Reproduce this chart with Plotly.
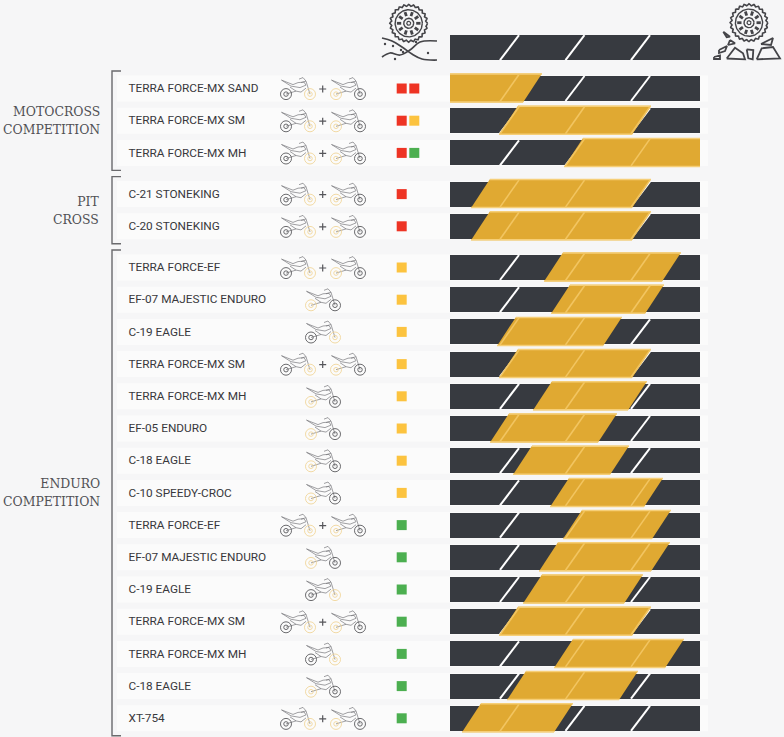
import numpy as np
import plotly.graph_objects as go

# data
groups = ["MOTOCROSS<br>COMPETITION", "PIT<br>CROSS", "ENDURO<br>COMPETITION"]
group_sizes = [3, 2, 15]
names = ["TERRA FORCE-MX SAND", "TERRA FORCE-MX SM", "TERRA FORCE-MX MH",
         "C-21 STONEKING", "C-20 STONEKING",
         "TERRA FORCE-EF", "EF-07 MAJESTIC ENDURO", "C-19 EAGLE", "TERRA FORCE-MX SM",
         "TERRA FORCE-MX MH", "EF-05 ENDURO", "C-18 EAGLE", "C-10 SPEEDY-CROC",
         "TERRA FORCE-EF", "EF-07 MAJESTIC ENDURO", "C-19 EAGLE", "TERRA FORCE-MX SM",
         "TERRA FORCE-MX MH", "C-18 EAGLE", "XT-754"]
low = [0, 19.6, 45.6, 8.4, 8.4, 37.6, 40.4, 18.8, 19.6, 33.2,
       16, 25.2, 40, 45.2, 35.6, 29.2, 19.6, 41.6, 22.8, 4.8]
high = [36.8, 80.4, 100, 80.4, 80.4, 92.4, 85.6, 68.8, 80.4, 78.8,
        66.8, 71.6, 85.2, 88.4, 88, 77.2, 80.4, 93.6, 75.2, 49.2]
# which wheel is highlighted: both = two bikes, else left/right on one bike
wheels = ["both", "both", "both", "both", "both",
          "both", "left", "right", "both", "left", "left", "left", "left",
          "both", "left", "right", "both", "right", "left", "both"]
terrain_a = ["red"] * 5 + ["yellow"] * 8 + ["green"] * 7
terrain_b = ["red", "yellow", "green"] + [None] * 17
slashes = [20, 46.2, 72.4]

BG = "#f6f6f7"
TRACK = "#373a40"
GOLD = "#e0a932"
GOLD_EDGE = "#f6cf78"
GOLD_SLASH = "#f2c561"
INK = "#444448"
WHEEL = "#f1d69b"
SQUARES = {"red": "#ee3424", "yellow": "#fcc33f", "green": "#4caf50"}
SKEW = 7.6  # slant of the bars in axis units

# row centres in pixels
row_y, bracket_y = [], []
y = 88.5
for size in group_sizes:
    top = y - 17.5
    for i in range(size):
        row_y.append(y)
        y += 32.2
    bracket_y.append((top, y - 32.2 + 17.5))
    y += 9
header_y = 47.7

fig = go.Figure()

# stripes behind the rows
shapes = [dict(type="rect", xref="x", yref="y", x0=117, x1=708, y0=c - 13, y1=c + 13,
               fillcolor="#fbfbfb", line_width=0, layer="below") for c in row_y]

# brackets
for top, bottom in bracket_y:
    shapes.append(dict(type="path", xref="x", yref="y", layer="above",
                       path=f"M 121 {top} L 112 {top} L 112 {bottom} L 121 {bottom}",
                       line=dict(color="#6a6a6d", width=1.4)))
fig.update_layout(shapes=shapes)

# names
fig.add_trace(go.Scatter(x=[128.5] * len(names), y=[c + 0.8 for c in row_y], mode="text", text=names,
                         textposition="middle right",
                         textfont=dict(family="Roboto", size=11.8, color="#38383c")))

# terrain squares
fig.add_trace(go.Scatter(x=[401.7] * len(row_y), y=row_y, mode="markers",
                         marker=dict(symbol="square", size=10, line_width=0,
                                     color=[SQUARES[t] for t in terrain_a])))
second = [(c, SQUARES[t]) for c, t in zip(row_y, terrain_b) if t]
fig.add_trace(go.Scatter(x=[414.3] * len(second), y=[s[0] for s in second], mode="markers",
                         marker=dict(symbol="square", size=10, line_width=0,
                                     color=[s[1] for s in second])))

# bike icons, local coordinates from the rear wheel centre
BIKE = [[(-4.5, -14), (7, -9.5), (12, -11.5), (18, -12), (20, -9), (14, -6.5), (5, -8), (-4.5, -14)],
        [(0, 0), (10, -3), (15, -2), (20, -6)],
        [(4, -7), (10, -3)],
        [(13, -15), (17, -16.5), (20, -13), (24, 0)],
        [(15, -11.5), (20, -13)]]
bx, by, gray_w, gold_w = [], [], [], []


def add_bike(x0, c, lit):
    for part in BIKE:
        bx.extend([x0 + p[0] for p in part] + [None])
        by.extend([c + 5.6 + p[1] for p in part] + [None])
    for wx, side in ((x0, "left"), (x0 + 24, "right")):
        (gold_w if side == lit else gray_w).append((wx, c + 5.6))


for c, w in zip(row_y, wheels):
    if w == "both":
        add_bike(286, c, "right")
        add_bike(336, c, "left")
    else:
        add_bike(311, c, w)

fig.add_trace(go.Scatter(x=bx, y=by, mode="lines", line=dict(color="#77777b", width=0.7)))
for pts, color in ((gray_w, "#5a5a5e"), (gold_w, WHEEL)):
    for size in (11, 4.5):
        fig.add_trace(go.Scatter(x=[p[0] for p in pts], y=[p[1] for p in pts], mode="markers",
                                 marker=dict(symbol="circle-open", size=size, color=color,
                                             line=dict(color=color, width=0.9))))

# plus signs
plus_y = [c + 0.5 for c, w in zip(row_y, wheels) if w == "both"]
fig.add_trace(go.Scatter(x=[322.7] * len(plus_y), y=plus_y, mode="markers",
                         marker=dict(symbol="cross-thin-open", size=5, color="#55555a",
                                     line=dict(color="#55555a", width=1.2))))


# header icons
def tire(cx, cy):
    ang = np.linspace(0, 2 * np.pi, 145)
    r = 18 + 0.9 * np.cos(ang * 24)
    parts = [(cx + r * np.cos(ang), cy + r * np.sin(ang), 1.6),
             (cx + 13.6 * np.cos(ang), cy + 13.6 * np.sin(ang), 1.4),
             (cx + 5 * np.cos(ang), cy + 5 * np.sin(ang), 1.4),
             (cx + 2 * np.cos(ang), cy + 2 * np.sin(ang), 1.2)]
    for xs, ys, width in parts:
        fig.add_trace(go.Scatter(x=xs, y=ys, mode="lines", line=dict(color=INK, width=width)))
    sx, sy = [], []
    for a in np.linspace(0, 2 * np.pi, 11)[:-1]:
        sx += [cx + 7.5 * np.cos(a), cx + 11.8 * np.cos(a), None]
        sy += [cy + 7.5 * np.sin(a), cy + 11.8 * np.sin(a), None]
    fig.add_trace(go.Scatter(x=sx, y=sy, mode="lines", line=dict(color=INK, width=2.8)))


tire(408.7, 23.3)
tire(749, 22.7)

fig.add_trace(go.Scatter(x=[382, 392, 402, 412, 422, 437], y=[38, 41, 47, 54, 59, 60],
                         mode="lines", line=dict(color=INK, width=1.7, shape="spline")))
fig.add_trace(go.Scatter(x=[382, 390, 400, 410, 420, 437], y=[57, 53, 55, 50, 42, 41],
                         mode="lines", line=dict(color=INK, width=1.7, shape="spline")))
fig.add_trace(go.Scatter(x=[385, 393, 403, 416, 428, 395, 401], y=[44, 46, 52, 42, 53, 59, 50],
                         mode="markers", marker=dict(size=2.4, color=INK)))

rocks = [[(726.7, 58.5), (735, 47.7), (743, 53.3), (745, 59.3), (726.7, 58.5)],
         [(756.7, 59.3), (761.7, 48.3), (773, 47), (780, 58.3), (756.7, 59.3)],
         [(746.7, 49.3), (753.3, 50), (752.7, 59.3), (748.3, 58.3), (746.7, 49.3)],
         [(723.3, 31.7), (730, 36.7), (726.7, 37.3), (723.3, 31.7)],
         [(730, 40), (735, 43.3), (728, 45), (730, 40)],
         [(761, 44), (773, 38), (771, 45), (761, 44)],
         [(719, 50), (727, 46), (725, 51), (719, 53), (719, 50)],
         [(714, 57), (720, 55.5), (720, 59), (714, 59), (714, 57)]]
for rock in rocks:
    fig.add_trace(go.Scatter(x=[p[0] for p in rock], y=[p[1] for p in rock], mode="lines",
                             line=dict(color=INK, width=1.8)))

# tracks
all_y = [header_y] + row_y
fig.add_trace(go.Bar(x=[100] * len(all_y), y=all_y, base=0, width=25, orientation="h", xaxis="x2",
                     marker=dict(color=TRACK, line_width=0)))

# white slashes
sx, sy = [], []
for c in all_y:
    for s in slashes:
        sx += [s, s + SKEW, None]
        sy += [c + 12.5, c - 12.5, None]
fig.add_trace(go.Scatter(x=sx, y=sy, xaxis="x2", mode="lines", line=dict(color="white", width=2)))

# gold bars
ex, ey, gx, gy = [], [], [], []
for c, lo, hi in zip(row_y, low, high):
    tl = lo + SKEW if lo > 0 else 0
    br = hi - SKEW if hi < 100 else 100
    fig.add_trace(go.Scatter(x=[lo, tl, hi, br, lo], y=[c + 14, c - 15, c - 15, c + 14, c + 14],
                             xaxis="x2", mode="lines", fill="toself", fillcolor=GOLD, line=dict(width=0)))
    ex += [tl, hi, None, lo, br, None]
    ey += [c - 14.5, c - 14.5, None, c + 13.5, c + 13.5, None]
    for s in slashes:
        if lo <= s and s + SKEW <= hi:
            gx += [s, s + SKEW, None]
            gy += [c + 13, c - 14, None]
fig.add_trace(go.Scatter(x=ex, y=ey, xaxis="x2", mode="lines", line=dict(color=GOLD_EDGE, width=1.5)))
fig.add_trace(go.Scatter(x=gx, y=gy, xaxis="x2", mode="lines", line=dict(color=GOLD_SLASH, width=1.6)))

# group labels
annotations = []
for label, (top, bottom) in zip(groups, bracket_y):
    annotations.append(dict(x=101.5, y=(top + bottom) / 2, xref="x", yref="y", text=label, showarrow=False,
                            xanchor="right", align="right",
                            font=dict(family="DejaVu Serif Condensed", size=13.8, color="#505054")))
annotations[0]["y"] -= 1
annotations[2]["y"] = 492
fig.update_layout(annotations=annotations)

fig.update_layout(
    width=784, height=737, margin=dict(l=0, r=0, t=0, b=0),
    paper_bgcolor=BG, plot_bgcolor="rgba(0,0,0,0)", showlegend=False, bargap=0,
    xaxis=dict(domain=[0, 1], range=[0, 784], visible=False),
    xaxis2=dict(domain=[450 / 784, 700 / 784], range=[0, 100], visible=False, anchor="y"),
    yaxis=dict(domain=[0, 1], range=[737, 0], visible=False),
)

fig.write_html("out.html", config=dict(displayModeBar=False),
               post_script="document.body.style.margin='0';document.body.style.overflow='hidden';")
